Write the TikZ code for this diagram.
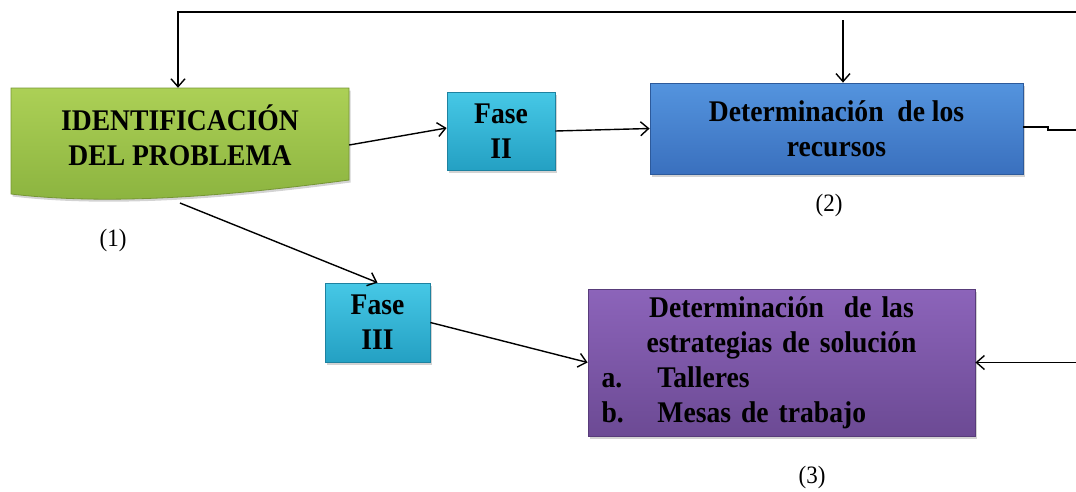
\documentclass[tikz,border=0pt]{standalone}
\usepackage{fontspec}
\setmainfont[FakeStretch=0.92]{Liberation Serif}
\usetikzlibrary{arrows.meta,shadows}
\definecolor{grT}{RGB}{172,208,86}
\definecolor{grB}{RGB}{138,178,62}
\definecolor{grD}{RGB}{118,150,52}
\definecolor{cyT}{RGB}{70,200,230}
\definecolor{cyB}{RGB}{36,160,195}
\definecolor{cyD}{RGB}{30,130,160}
\definecolor{blT}{RGB}{84,148,222}
\definecolor{blB}{RGB}{58,112,190}
\definecolor{blD}{RGB}{45,90,155}
\definecolor{puT}{RGB}{140,100,186}
\definecolor{puB}{RGB}{108,74,148}
\definecolor{puD}{RGB}{88,60,122}
\tikzset{
  x=1pt,y=-1pt,
  conn/.style={line width=1.4pt,-{Straight Barb[length=8pt,width=14pt,line width=1.4pt]}},
  plain/.style={line width=1.4pt},
  boxtext/.style={font=\bfseries\fontsize{30}{35}\selectfont,align=center,inner sep=0pt},
  shad/.style={drop shadow={shadow xshift=1.5pt,shadow yshift=-2.5pt,opacity=.35}},
  fasebox/.style={boxtext,rectangle,draw=cyD,line width=0.8pt,top color=cyT,bottom color=cyB,shad},
  bluebox/.style={boxtext,rectangle,draw=blD,line width=0.8pt,top color=blT,bottom color=blB,shad},
  purplebox/.style={boxtext,rectangle,draw=puD,line width=0.8pt,top color=puT,bottom color=puB,shad},
  lbl/.style={font=\fontsize{25}{28}\selectfont,inner sep=0pt}
}
\begin{document}
\begin{tikzpicture}
\useasboundingbox (0,0) rectangle (1076,491);
% green document shape
\coordinate (gTL) at (11,88);
\coordinate (gTR) at (349,88);
\coordinate (gBR) at (349,180);
\coordinate (gBL) at (11,194);
\path[draw=grD,line width=0.8pt,top color=grT,bottom color=grB,shad]
  (gTL) -- (gTR) -- (gBR) .. controls (250,193) and (120,207) .. (gBL) -- cycle;
\node[boxtext,minimum width=338pt,minimum height=95pt] (green) at (180,135.5)
  {IDENTIFICACIÓN\\DEL PROBLEMA};
\coordinate (gb) at (180,203);

\node[fasebox,minimum width=108pt,minimum height=78pt] (f2) at (501,131) {Fase\\II};
\node[fasebox,minimum width=105pt,minimum height=79pt] (f3) at (377.5,322.5) {Fase\\III};
\node[bluebox,minimum width=373pt,minimum height=91pt] (blue) at (836.5,128.5)
  {Determinación\ \ de los\\recursos};
\node[purplebox,minimum width=387pt,minimum height=147pt,text width=360pt] (purple) at (781.5,362.5)
  {Determinación\ \ de las\\estrategias de solución\\
   \makebox[360pt][l]{\makebox[56pt][l]{a.}Talleres}\\
   \makebox[360pt][l]{\makebox[56pt][l]{b.}Mesas de trabajo}};

\node[lbl] (l1) at (113,240) {(1)};
\node[lbl] (l2) at (829,205) {(2)};
\node[lbl] (l3) at (812,477) {(3)};

% connectors
\coordinate (tr) at (1076,12);
\coordinate (tl) at (178,12);
\draw[conn] (tr) -- (tl) -- (tl |- green.north);
\coordinate (bt) at (843,20);
\draw[conn] (bt) -- (bt |- blue.north);
\draw[conn] ([yshift=-9.5pt]green.east) -- ([yshift=3pt]f2.west);
\draw[conn] (f2.east) -- (blue.west);
\draw[conn] (gb) -- (f3.north);
\draw[conn] (f3.east) -- (purple.west);
\coordinate (pr) at (1076,362.5);
\draw[conn] (pr) -- (purple.east);
\coordinate (s1) at (1048,127);
\coordinate (s2) at (1076,130);
\draw[plain] ([yshift=1.5pt]blue.east) -- (s1) -- (s1 |- s2) -- (s2);
\end{tikzpicture}
\end{document}
